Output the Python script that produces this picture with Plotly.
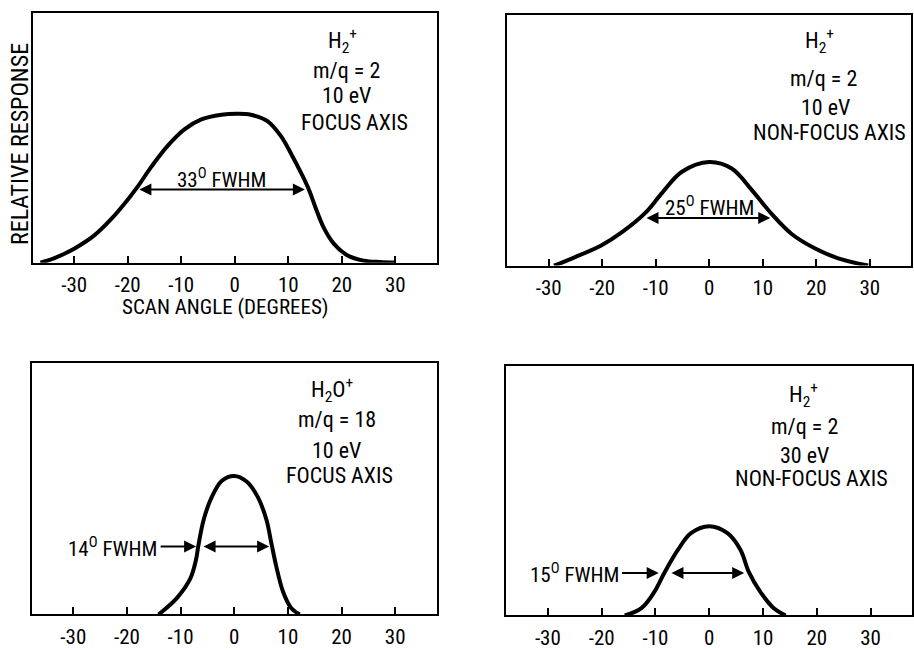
import plotly.graph_objects as go

W, H = 914, 650
FONT = "Roboto Condensed, Liberation Sans Narrow, Arial Narrow, sans-serif"

# ---- data (scan angle in degrees, relative response as fraction of frame height) ----
tl_x = [-36.3, -33.8, -30, -26.3, -23.1, -20, -18.1, -15.6, -12.5, -9.4, -6.25, -2.5, 0.5,
        3, 6.1, 8.6, 10.7, 12.6, 13.9, 15.1, 16.6, 18.5, 21, 24.1, 27.2, 30]
tl_y = [0.0, 0.017, 0.056, 0.108, 0.174, 0.252, 0.305, 0.383, 0.468, 0.533, 0.573, 0.592, 0.596,
        0.592, 0.566, 0.507, 0.429, 0.35, 0.29, 0.22, 0.141, 0.076, 0.03, 0.008, 0.003, 0.001]

tr_x = [-29, -25.6, -20.1, -16.3, -11.9, -8.8, -5.1, 0, 4.2, 8, 11.7, 15.4, 19.8, 24.1, 29.7]
tr_y = [0.0, 0.029, 0.081, 0.133, 0.211, 0.29, 0.374, 0.413, 0.387, 0.30, 0.205, 0.126, 0.068, 0.029, 0.0]

bl_x = [-14.1, -10.7, -8.2, -7.1, -6.7, -5.7, -4.2, -2.3, 0, 2.3, 4.4, 6.0, 6.9, 7.8, 9.1, 10.6, 12.2]
bl_y = [0.0, 0.065, 0.142, 0.22, 0.272, 0.376, 0.466, 0.531, 0.55, 0.528, 0.466, 0.376, 0.285, 0.194, 0.09, 0.026, 0.0]

br_x = [-15.7, -12.6, -10.2, -8.3, -5.8, -3.4, 0, 3.4, 5.8, 7.4, 9.5, 12.0, 14.2]
br_y = [0.0, 0.029, 0.094, 0.172, 0.263, 0.329, 0.357, 0.329, 0.263, 0.172, 0.094, 0.029, 0.0]

tick_vals = [-30, -20, -10, 0, 10, 20, 30]
tick_text = ["-30", "-20", "-10", "0", "10", "20", "30"]

labels_tl = ["H<sub>2</sub><sup>+</sup>", "m/q = 2", "10 eV", "FOCUS AXIS"]
labels_tr = ["H<sub>2</sub><sup>+</sup>", "m/q = 2", "10 eV", "NON-FOCUS AXIS"]
labels_bl = ["H<sub>2</sub>O<sup>+</sup>", "m/q = 18", "10 eV", "FOCUS AXIS"]
labels_br = ["H<sub>2</sub><sup>+</sup>", "m/q = 2", "30 eV", "NON-FOCUS AXIS"]

fwhm_text = ["33<sup>O</sup> FWHM", "25<sup>O</sup> FWHM", "14<sup>O</sup> FWHM", "15<sup>O</sup> FWHM"]

# ---- layout geometry (pixels) ----
panels = [
    # (xaxis, yaxis, left, right, top, bottom)
    ("x", "y", 33, 437, 13, 268),
    ("x2", "y2", 508, 912, 15, 271),
    ("x3", "y3", 32, 437, 370, 627),
    ("x4", "y4", 507, 913, 373, 628),
]
series = [(tl_x, tl_y), (tr_x, tr_y), (bl_x, bl_y), (br_x, br_y)]

fig = go.Figure()
for (xa, ya, *_), (sx, sy) in zip(panels, series):
    fig.add_trace(go.Scatter(x=sx, y=sy, mode="lines", xaxis=xa, yaxis=ya,
                             line=dict(color="black", width=4, shape="spline", smoothing=1.0),
                             showlegend=False, hoverinfo="skip"))

layout = dict(width=W, height=H, margin=dict(l=0, r=0, t=0, b=0),
              paper_bgcolor="white", plot_bgcolor="white",
              font=dict(family=FONT, color="black", size=21))
for i, (xa, ya, l, r, t, b) in enumerate(panels):
    xk = "xaxis" if i == 0 else f"xaxis{i+1}"
    yk = "yaxis" if i == 0 else f"yaxis{i+1}"
    layout[xk] = dict(domain=[l / W, r / W], range=[-37.7, 37.7], anchor=ya,
                      showgrid=False, zeroline=False, showline=True, mirror=True,
                      linecolor="black", linewidth=2, ticks="inside", ticklen=7,
                      tickwidth=1.5, tickcolor="black", tickvals=tick_vals, ticktext=tick_text,
                      tickfont=dict(family=FONT, size=21, color="black"), ticklabelstandoff=2)
    layout[yk] = dict(domain=[1 - b / H, 1 - t / H], range=[0, 1], anchor=xa,
                      showgrid=False, zeroline=False, showline=True, mirror=True,
                      linecolor="black", linewidth=2, showticklabels=False, ticks="")
fig.update_layout(**layout)

ann = []
def txt(x, y, s, size=22, **kw):
    ann.append(dict(xref="paper", yref="paper", x=x / W, y=1 - y / H, text=s, showarrow=False,
                    font=dict(family=FONT, size=size, color="black"), xanchor="center", yanchor="middle", **kw))

# info labels
for labels, xc, ys in [
    (labels_tl, [343, 347, 347, 355], [42, 72, 97, 125]),
    (labels_tr, [820, 824, 826, 830], [42, 80, 110, 135]),
    (labels_bl, [332, 337, 337, 340], [398, 428, 460, 485]),
    (labels_br, [804, 805, 805, 812], [403, 435, 465, 488]),
]:
    for s, x, y in zip(labels, xc, ys):
        txt(x, y, s)

# axis titles
txt(20, 147, "RELATIVE RESPONSE", size=24, textangle=-90)
txt(226, 313, "SCAN ANGLE (DEGREES)", size=21)

# FWHM texts
txt(222, 182, fwhm_text[0], size=21)
txt(710, 210, fwhm_text[1], size=21)
txt(113, 558, fwhm_text[2], size=21)
txt(575, 585, fwhm_text[3], size=21)

def arrow(xa, ya, x0, x1, y, both=True):
    ann.append(dict(xref=xa, yref=ya, axref=xa, ayref=ya, x=x1, y=y, ax=x0, ay=y, text="",
                    showarrow=True, arrowhead=2, arrowsize=1.2, arrowwidth=2, arrowcolor="black",
                    arrowside="end+start" if both else "end", standoff=0, startstandoff=0))

arrow("x", "y", -18.1, 13.1, 0.293)
arrow("x2", "y2", -12.0, 11.4, 0.19)
arrow("x3", "y3", -14.0, -7.1, 0.27, both=False)
arrow("x3", "y3", -6.0, 6.5, 0.27)
arrow("x4", "y4", -16.5, -9.4, 0.17, both=False)
arrow("x4", "y4", -7.3, 6.5, 0.17)

fig.update_layout(annotations=ann)
fig.write_html("out.html")
